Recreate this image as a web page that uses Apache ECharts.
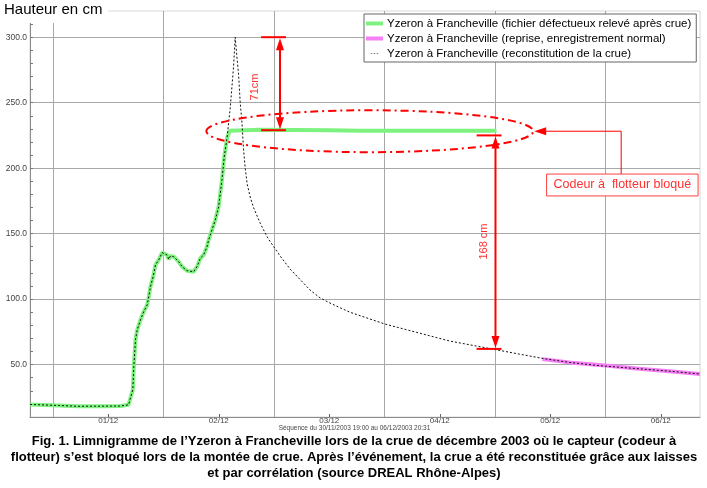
<!DOCTYPE html>
<html>
<head>
<meta charset="utf-8">
<script src="https://cdn.jsdelivr.net/npm/echarts@6/dist/echarts.min.js"></script>
<style>
html,body{margin:0;padding:0;background:#fff;}
#c{width:707px;height:488px;}
</style>
</head>
<body>
<div id="c"></div>
<script>
// Hours are counted from 01/12/2003 00:00
const dayLabels = ['01/12','02/12','03/12','04/12','05/12','06/12'];
const labelHours = [12,36,60,84,108,132];
const midnightHours = [0,24,48,72,96,120];
const yLabelValues = [50,100,150,200,250,300];
const yMinorTicks = [20,30,40,50,60,70,80,90,100,110,120,130,140,150,160,170,180,190,200,210,220,230,240,250,260,270,280,290,300,310];

const seriesNames = [
  'Yzeron à Francheville (fichier défectueux relevé après crue)',
  'Yzeron à Francheville (reprise, enregistrement normal)',
  'Yzeron à Francheville (reconstitution de la crue)'
];

const greenHours = [-5,1.23,5.35,10.33,14.66,16.40,16.83,17.33,17.55,17.91,18.28,19.0,19.71,20.45,20.79,21.16,21.75,22.25,22.96,23.70,24.78,25.13,25.50,26.21,27.29,28.03,29.11,30.54,31.28,31.99,32.71,33.44,33.79,35.24,35.96,36.69,37.19,37.78,38.34,44.99,60.15,66.65,96.33];
const greenValues = [19.6,18.8,18.2,18.3,18.4,19.3,20.7,30.8,48.6,68.9,76.5,84.2,90.5,95.6,101.9,109.5,117.2,126.1,129.9,135.5,133.7,130.4,132.9,132.4,128.6,124.8,121.7,120.9,124.8,131.2,133.7,140,145.1,160.4,170.5,190.9,208.7,222.7,228.5,229.3,229.0,228.5,228.5];

const pinkHours = [106.29,112.14,119.94,127.31,133.81,140.52];
const pinkValues = [54.2,51.7,49.3,46.8,45.0,42.8];

const reconHours = [-5,1.23,5.35,10.33,14.66,16.40,16.83,17.33,17.55,17.91,18.28,19.0,19.71,20.45,20.79,21.16,21.75,22.25,22.96,23.70,24.78,25.13,25.50,26.21,27.29,28.03,29.11,30.54,31.28,31.99,32.71,33.44,33.79,35.24,35.96,36.69,37.19,37.78,38.49,39.2,39.57,39.94,40.29,40.66,41.03,41.37,41.74,42.17,42.82,43.54,44.99,46.44,47.15,49.32,51.49,53.65,55.82,57.99,60.15,64.48,72.07,79.65,86.15,95.25,101.31,106.73,112.14,118.64,127.31,133.81,140.52];
const reconValues = [19.6,18.8,18.2,18.3,18.4,19.3,20.7,30.8,48.6,68.9,76.5,84.2,90.5,95.6,101.9,109.5,117.2,126.1,129.9,135.5,133.7,130.4,132.9,132.4,128.6,124.8,121.7,120.9,124.8,131.2,133.7,140,145.1,160.4,170.5,190.9,208.7,222.7,246,277,300,285,272,250,235,215,200,188,178,170,158,148,144,133,123,115,107,101,97,90,81,74,68,62,58,54.5,51.7,49.2,46.8,45,42.8];

// annotation anchors (cm)
const peakValue = 300, blockedValue = 229, blockedTop = 225, reconAtEnd = 62;

const xMin = -5, xMax = 140.52, yMin = 10, yMax = 320;

function pairs(xs, ys){ return xs.map((x,i)=>[x, ys[i]]); }

const chart = echarts.init(document.getElementById('c'), null, {renderer:'canvas'});
const FONT = 'Arial, "Liberation Sans", sans-serif';

chart.setOption({
  animation: false,
  backgroundColor: '#fff',
  title: {
    text: 'Hauteur en cm', left: 3, top: 2,
    padding: [0, 6, 6, 1],
    backgroundColor: '#fff',
    textStyle: {fontFamily: FONT, fontSize: 15, fontWeight: 'normal', color: '#000'}
  },
  legend: {
    orient: 'vertical', left: 364, top: 14,
    padding: [3, 5, 2, 2], itemGap: 2,
    backgroundColor: '#fff', borderColor: '#666', borderWidth: 1,
    itemWidth: 17, itemHeight: 4,
    textStyle: {fontFamily: FONT, fontSize: 11.5, lineHeight: 13, color: '#000', padding: [0,0,0,-1]},
    data: [
      {name: seriesNames[0], icon: 'rect', itemStyle: {color: '#7ef27e'}},
      {name: seriesNames[1], icon: 'rect', itemStyle: {color: '#f57ff5'}},
      {name: seriesNames[2], icon: 'path://M0,0M0,8M0,3.5h3v1h-3zM6,3.5h3v1h-3zM12,3.5h3v1h-3z', itemStyle: {color: '#000'}}
    ]
  },
  grid: {left: 30, right: 7, top: 11, bottom: 71, show: true, borderColor: '#d8d8d8', borderWidth: 1},
  xAxis: [
    {type: 'value', min: xMin, max: xMax, position: 'bottom',
     axisLine: {show: true, onZero: false, lineStyle: {color: '#8a8a8a'}},
     axisTick: {show: false, customValues: midnightHours},
     axisLabel: {show: false, customValues: midnightHours},
     splitLine: {show: true, lineStyle: {color: '#a8a8a8', width: 1}}},
    {type: 'value', min: xMin, max: xMax, position: 'bottom',
     axisLine: {show: false, onZero: false},
     axisTick: {show: true, inside: true, length: 3, customValues: labelHours, lineStyle: {color: '#666'}},
     axisLabel: {show: true, customValues: labelHours, margin: 0, fontFamily: FONT, fontSize: 8, color: '#444',
       formatter: function(v){ const i = labelHours.indexOf(v); return i >= 0 ? dayLabels[i] : ''; }},
     splitLine: {show: false}}
  ],
  yAxis: [
    {type: 'value', min: yMin, max: yMax, position: 'left',
     axisLine: {show: true, onZero: false, lineStyle: {color: '#8a8a8a'}},
     axisTick: {show: false, customValues: yLabelValues},
     axisLabel: {show: true, customValues: yLabelValues, margin: 3, fontFamily: FONT, fontSize: 8.5, color: '#444',
       formatter: function(v){ return v.toFixed(1); }},
     splitLine: {show: true, lineStyle: {color: '#a8a8a8', width: 1}}},
    {type: 'value', min: yMin, max: yMax, position: 'left',
     axisLine: {show: false, onZero: false},
     axisTick: {show: true, inside: true, length: 3, customValues: yMinorTicks, lineStyle: {color: '#777'}},
     axisLabel: {show: false},
     splitLine: {show: false}}
  ],
  series: [
    {name: seriesNames[0], type: 'line', xAxisIndex: 0, yAxisIndex: 0, symbol: 'none', z: 2,
     data: pairs(greenHours, greenValues),
     lineStyle: {color: '#7ef27e', width: 4}, itemStyle: {color: '#7ef27e'}},
    {name: seriesNames[1], type: 'line', xAxisIndex: 0, yAxisIndex: 0, symbol: 'none', z: 2,
     data: pairs(pinkHours, pinkValues),
     lineStyle: {color: '#f57ff5', width: 4}, itemStyle: {color: '#f57ff5'}},
    {name: seriesNames[2], type: 'line', xAxisIndex: 0, yAxisIndex: 0, symbol: 'none', z: 3,
     data: pairs(reconHours, reconValues),
     lineStyle: {color: '#111', width: 1, type: [2, 2]}, itemStyle: {color: '#000'}}
  ]
});

function P(h, v){ return chart.convertToPixel({xAxisIndex: 0, yAxisIndex: 0}, [h, v]); }
const RED = '#ff0000';
const g = [];
function vArrow(h, vTop, vBot, capL, capR){
  const t = P(h, vTop), b = P(h, vBot);
  const cl = P(capL, vTop)[0], cr = P(capR, vTop)[0];
  const x = t[0];
  g.push({type:'line', shape:{x1:cl, y1:t[1], x2:cr, y2:t[1]}, style:{stroke:RED, lineWidth:2}, z:10});
  g.push({type:'line', shape:{x1:cl, y1:b[1], x2:cr, y2:b[1]}, style:{stroke:RED, lineWidth:2}, z:10});
  g.push({type:'line', shape:{x1:x, y1:t[1]+10, x2:x, y2:b[1]-10}, style:{stroke:RED, lineWidth:2}, z:10});
  g.push({type:'polygon', shape:{points:[[x, t[1]+1],[x-4, t[1]+13],[x+4, t[1]+13]]}, style:{fill:RED}, z:10});
  g.push({type:'polygon', shape:{points:[[x, b[1]-1],[x-4, b[1]-13],[x+4, b[1]-13]]}, style:{fill:RED}, z:10});
}
vArrow(49.3, peakValue, blockedValue, 45.2, 50.6);
vArrow(96.1, blockedTop, reconAtEnd, 92.0, 97.4);

function vText(h, v, txt){
  const p = P(h, v);
  g.push({type:'text', x:p[0], y:p[1], rotation: Math.PI/2, z:10,
    style:{text: txt, fill:'#ff3030', font:'11px ' + FONT, textAlign:'center', textVerticalAlign:'middle'}});
}
vText(43.9, 262, '71cm');
vText(93.7, 144, '168 cm');

// ellipse around blocked plateau
const ec = P(68.8, 228.2);
const ex = P(68.8 + 35.5, 228.2)[0] - ec[0];
const ey = ec[1] - P(68.8, 228.2 + 16)[1];
g.push({type:'ellipse', shape:{cx:ec[0], cy:ec[1], rx:ex, ry:ey}, z:9,
  style:{fill:'none', stroke:RED, lineWidth:2, lineDash:[8,4,2,4]}});

// callout
const tip = P(104.5, 228.2), corner = P(123.4, 228.2), boxTop = P(123.4, 195.5);
const boxTL = P(107.2, 195.5), boxBR = P(140.1, 178.8);
g.push({type:'polyline', shape:{points:[[tip[0]+11, tip[1]],[corner[0], corner[1]],[boxTop[0], boxTop[1]]]}, style:{stroke:RED, lineWidth:1, fill:null}, z:10});
g.push({type:'polygon', shape:{points:[[tip[0], tip[1]],[tip[0]+12, tip[1]-4],[tip[0]+12, tip[1]+4]]}, style:{fill:RED}, z:10});
g.push({type:'rect', shape:{x:boxTL[0], y:boxTL[1], width:boxBR[0]-boxTL[0], height:boxBR[1]-boxTL[1]}, z:10,
  style:{fill:'#fff', stroke:'#ff4040', lineWidth:1}});
g.push({type:'text', x:(boxTL[0]+boxBR[0])/2, y:(boxTL[1]+boxBR[1])/2, z:11,
  style:{text:'Codeur à  flotteur bloqué', fill:'#ff3030', font:'12.5px ' + FONT, textAlign:'center', textVerticalAlign:'middle'}});

// footer texts
g.push({type:'text', x:354.5, y:428, z:10,
  style:{text:'Séquence du 30/11/2003 19:00 au 06/12/2003 20:31', fill:'#444', font:'6.5px ' + FONT, textAlign:'center', textVerticalAlign:'middle'}});
const caption = [
  'Fig. 1. Limnigramme de l’Yzeron à Francheville lors de la crue de décembre 2003 où le capteur (codeur à',
  'flotteur) s’est bloqué lors de la montée de crue. Après l’événement, la crue a été reconstituée grâce aux laisses',
  'et par corrélation (source DREAL Rhône-Alpes)'
];
caption.forEach((t, i) => {
  g.push({type:'text', x:354, y:441 + i*16, z:10,
    style:{text:t, fill:'#000', font:'bold 13px ' + FONT, textAlign:'center', textVerticalAlign:'middle'}});
});

chart.setOption({graphic: g});
</script>
</body>
</html>
